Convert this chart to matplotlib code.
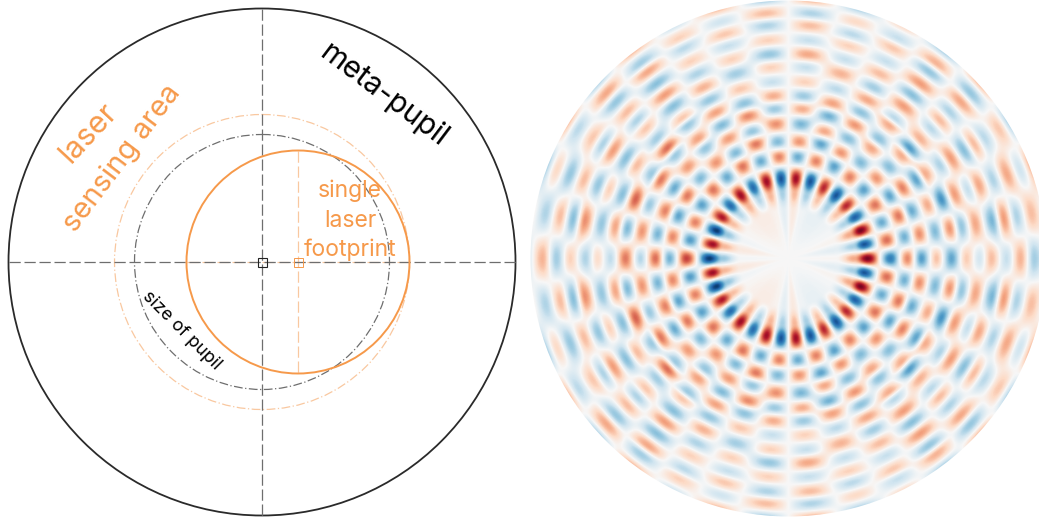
import numpy as np
import matplotlib
matplotlib.use('Agg')
import matplotlib.pyplot as plt
from matplotlib.patches import Circle, Rectangle

plt.rcParams['font.family'] = ['Inter', 'Noto Sans', 'DejaVu Sans']

W, H = 1039, 519
ORANGE = '#f6994a'
PALE_ORANGE = '#f9c8a0'
GRAY = '#6e6e6e'

# right panel: amplitude, one quadrant
# each column is one blob angle (0 at +x axis, step 180/17 deg)
col0 = [0, .02, .40, 1.0, -.72, .50, -.58, .30, -.55, .26, -.18, .32, -.24, .36, -.36, .18, .18]
col1 = [0, -.10, -.35, -.90, .58, -.50, .48, -.46, .46, -.40, .40, -.48, .44, -.32, .32, -.08, -.08]
col2 = [0, .03, .40, 1.0, -.52, .55, -.52, .38, -.62, .44, -.24, .40, -.32, .40, -.20, .45, .45]
col3 = [0, -.02, -.32, -.85, .56, -.55, .52, -.55, .38, -.32, .44, -.44, .32, -.28, .28, -.42, -.42]
col4 = [0, -.05, .30, .80, -.56, .46, -.44, .38, -.58, .36, -.28, .32, -.32, .40, -.40, .42, .42]
col5 = [0, -.08, -.35, -.90, .52, -.46, .40, -.42, .38, -.28, .44, -.44, .44, -.40, .36, -.42, -.42]
col6 = [0, -.08, .30, .80, -.56, .46, -.44, .46, -.42, .40, -.36, .32, -.24, .28, -.24, .25, .25]
col7 = [0, -.04, -.35, -.90, .52, -.55, .40, -.50, .42, -.28, .36, -.24, .24, -.28, .20, -.38, -.38]
col8 = [0, .10, .35, .90, -.52, .46, -.48, .38, -.38, .24, -.24, .40, -.24, .32, -.32, .42, .42]

# radius of each of those blobs in px, same order
rad0 = [0, 48, 66, 79, 102, 119, 133, 148, 163, 178, 191, 203, 218, 232, 246, 262, 275]
rad1 = [0, 48, 66, 77, 100, 118, 133, 149, 164, 176, 190, 207, 219, 232, 247, 262, 275]
rad2 = [0, 48, 66, 77, 100, 118, 132, 149, 164, 178, 192, 204, 219, 234, 248, 262, 275]
rad3 = [0, 48, 66, 78, 102, 119, 134, 150, 161, 178, 191, 206, 218, 230, 247, 262, 275]
rad4 = [0, 48, 66, 78, 102, 119, 136, 153, 164, 178, 193, 205, 218, 233, 246, 262, 275]
rad5 = [0, 48, 66, 79, 102, 120, 138, 150, 167, 176, 191, 205, 219, 234, 245, 262, 275]
rad6 = [0, 48, 66, 79, 103, 118, 134, 149, 163, 177, 191, 206, 220, 235, 246, 262, 275]
rad7 = [0, 48, 66, 80, 101, 119, 132, 148, 161, 176, 192, 207, 221, 233, 246, 262, 275]
rad8 = [0, 48, 66, 80, 102, 117, 135, 150, 163, 177, 192, 205, 219, 234, 246, 262, 275]

# left panel: circles as (x, y, radius) in px
meta_pupil = (262, 262, 253.5)
sensing_area = (262, 262, 147.5)
pupil = (262, 262, 127.5)
footprint = (298, 262, 111.5)
disk = (788.5, 258.5, 258)


def radial_blend(rr, radii, values):
    # cosine blend between rings so the blobs come out round
    ri = np.interp(rr, radii, np.arange(len(radii)))
    i0 = np.minimum(ri.astype(int), len(radii) - 2)
    f = .5 - .5 * np.cos(np.pi * (ri - i0))
    return values[i0] * (1 - f) + values[i0 + 1] * f


def wave_image():
    amp = np.array([col0, col1, col2, col3, col4, col5, col6, col7, col8], dtype=float)
    rad = np.array([rad0, rad1, rad2, rad3, rad4, rad5, rad6, rad7, rad8], dtype=float)
    # quadrant to full circle: odd about the y axis, even about the x axis
    amp = np.vstack([amp, -amp[::-1]])
    rad = np.vstack([rad, rad[::-1]])
    amp = np.vstack([amp, amp[-2:0:-1]])
    rad = np.vstack([rad, rad[-2:0:-1]])
    ncol = amp.shape[0]

    yy, xx = np.mgrid[0:H, 0:W]
    dx = xx + .5 - disk[0]
    dy = disk[1] - (yy + .5)
    rr = np.hypot(dx, dy)
    tt = np.mod(np.arctan2(dy, dx), 2 * np.pi) / (2 * np.pi) * ncol
    t0 = tt.astype(int) % ncol
    tf = .5 - .5 * np.cos(np.pi * (tt - np.floor(tt)))

    per_col = np.stack([radial_blend(rr, rad[k], amp[k]) for k in range(ncol)])
    rows, cols = np.indices(rr.shape)
    return per_col[t0, rows, cols] * (1 - tf) + per_col[(t0 + 1) % ncol, rows, cols] * tf


fig = plt.figure(figsize=(W / 100, H / 100), dpi=100)
ax = fig.add_axes([0, 0, 1, 1])
ax.set_xlim(0, W)
ax.set_ylim(H, 0)
ax.axis('off')

im = ax.imshow(wave_image(), cmap='RdBu_r', vmin=-1.05, vmax=1.05,
               extent=(0, W, H, 0), interpolation='bilinear', zorder=1, aspect='auto')
im.set_clip_path(Circle(disk[:2], disk[2], transform=ax.transData))

cx, cy, R = meta_pupil
ax.add_patch(Circle((cx, cy), R, fill=False, ec='#2a2a2a', lw=1.3, zorder=3))
ax.add_patch(Circle(sensing_area[:2], sensing_area[2], fill=False, ec=PALE_ORANGE,
                    lw=.9, ls=(0, (7, 2, 1, 2)), zorder=3))
ax.add_patch(Circle(pupil[:2], pupil[2], fill=False, ec=GRAY,
                    lw=.9, ls=(0, (7, 2, 1, 2)), zorder=3))
ax.add_patch(Circle(footprint[:2], footprint[2], fill=False, ec=ORANGE, lw=1.4, zorder=5))

dash = (0, (9, 3))
fx, fy, fr = footprint
ax.plot([fx, fx], [fy - fr, fy + fr], color=PALE_ORANGE, lw=.9, ls=dash, zorder=4)
ax.plot([fx - fr, fx + fr], [fy, fy], color=PALE_ORANGE, lw=.9, ls=dash, zorder=4)
ax.plot([cx - R, cx + R], [cy, cy], color=GRAY, lw=.9, ls=dash, zorder=4)
ax.plot([cx, cx], [cy - R, cy + R], color=GRAY, lw=.9, ls=dash, zorder=4)

ax.add_patch(Rectangle((cx - 4.5, cy - 4.5), 9, 9, fill=False, ec='#222222', lw=.8, zorder=6))
ax.add_patch(Rectangle((fx - 4.5, fy - 4.5), 9, 9, fill=False, ec=ORANGE, lw=.7, zorder=6))

ax.text(384, 95, 'meta-pupil', rotation=-37, rotation_mode='anchor', color='black',
        fontsize=21.5, ha='center', va='center', zorder=7)
ax.text(89, 133, 'laser', rotation=47, rotation_mode='anchor', color=ORANGE,
        fontsize=22, ha='center', va='center', zorder=7)
ax.text(122, 158, 'sensing area', rotation=53, rotation_mode='anchor', color=ORANGE,
        fontsize=21, ha='center', va='center', zorder=7)
ax.text(182, 331, 'size of pupil', rotation=-45, rotation_mode='anchor', color='black',
        fontsize=13, ha='center', va='center', zorder=7)
for label, y in zip(['single', 'laser', 'footprint'], [191, 221, 250]):
    ax.text(350, y, label, color=ORANGE, fontsize=16.5, ha='center', va='center', zorder=7)

fig.savefig('out.png', dpi=100)
